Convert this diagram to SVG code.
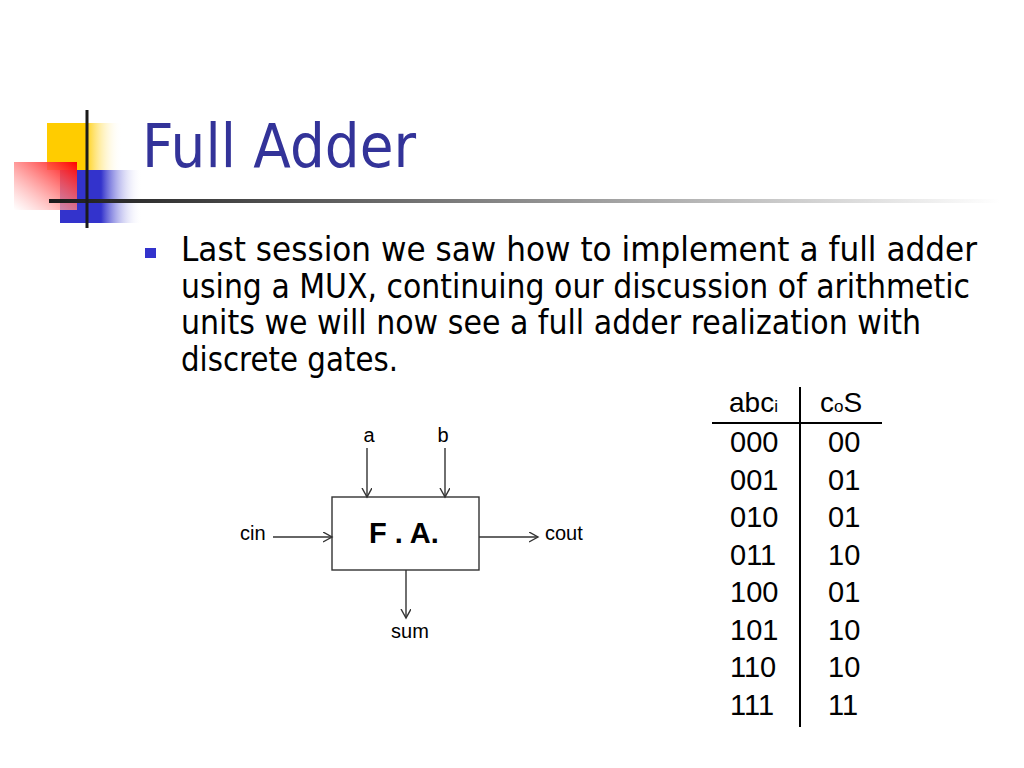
<svg xmlns="http://www.w3.org/2000/svg" width="1024" height="768" viewBox="0 0 1024 768">
  <style>
    .body { font-family: "DejaVu Sans", Verdana, sans-serif; font-size: 34px; fill: #000; }
    .title { font-family: "DejaVu Sans", Verdana, sans-serif; font-size: 61px; fill: #333399; }
    .lbl { font-family: "Liberation Sans", Arial, sans-serif; font-size: 20px; fill: #000; }
    .tbl { font-family: "Liberation Sans", Arial, sans-serif; font-size: 29px; fill: #000; }
    .hdr { font-family: "Liberation Sans", Arial, sans-serif; font-size: 28px; fill: #000; }
    .wire { stroke: #333; stroke-width: 1.4; fill: none; }
  </style>
  <defs>
    <linearGradient id="gYellow" x1="0" y1="0" x2="1" y2="0">
      <stop offset="0" stop-color="#ffcc00"/>
      <stop offset="0.5" stop-color="#ffcc00"/>
      <stop offset="1" stop-color="#ffffff" stop-opacity="0"/>
    </linearGradient>
    <linearGradient id="gBlue" x1="0" y1="0" x2="1" y2="0">
      <stop offset="0" stop-color="#3333cc"/>
      <stop offset="0.5" stop-color="#3333cc"/>
      <stop offset="1" stop-color="#ffffff" stop-opacity="0"/>
    </linearGradient>
    <linearGradient id="gRed" x1="1" y1="0" x2="0" y2="1">
      <stop offset="0" stop-color="#ff0000"/>
      <stop offset="1" stop-color="#ffffff" stop-opacity="0.6"/>
    </linearGradient>
    <linearGradient id="gRule" x1="0" y1="0" x2="1" y2="0">
      <stop offset="0" stop-color="#1a1a1a"/>
      <stop offset="1" stop-color="#ffffff"/>
    </linearGradient>
    <marker id="arr" markerUnits="userSpaceOnUse" markerWidth="12" markerHeight="12" refX="9" refY="5" orient="auto">
      <path d="M0,0 L9,5 L0,10" fill="none" stroke="#333" stroke-width="1.4"/>
    </marker>
  </defs>

  <rect width="1024" height="768" fill="#ffffff"/>

  <g id="decoration">
    <rect x="47" y="123" width="75" height="47" fill="url(#gYellow)"/>
    <rect x="60" y="170" width="82" height="53" fill="url(#gBlue)"/>
    <rect x="14" y="162" width="63" height="48" fill="url(#gRed)"/>
    <rect x="49" y="199" width="951" height="4" fill="url(#gRule)"/>
    <rect x="85.5" y="110" width="3" height="118" fill="#1a1a1a"/>
  </g>

  <g id="title">
    <text class="title" x="142" y="167" textLength="274" lengthAdjust="spacingAndGlyphs">Full Adder</text>
  </g>

  <g id="bullet-text">
    <rect x="145" y="248" width="11" height="10" fill="#3333cc"/>
    <text class="body" x="181" y="261" textLength="796" lengthAdjust="spacingAndGlyphs">Last session we saw how to implement a full adder</text>
    <text class="body" x="181" y="298" textLength="789" lengthAdjust="spacingAndGlyphs">using a MUX, continuing our discussion of arithmetic</text>
    <text class="body" x="181" y="334" textLength="740" lengthAdjust="spacingAndGlyphs">units we will now see a full adder realization with</text>
    <text class="body" x="181" y="371" textLength="217" lengthAdjust="spacingAndGlyphs">discrete gates.</text>
  </g>

  <g id="fa-block">
    <rect x="332" y="497" width="147" height="73" fill="#ffffff" stroke="#333" stroke-width="1.4"/>
    <text x="369" y="543" font-family="Liberation Sans, Arial, sans-serif" font-size="29" font-weight="bold" fill="#000">F . A.</text>
  </g>

  <g id="labels">
    <text class="lbl" x="369" y="442" text-anchor="middle">a</text>
    <text class="lbl" x="443" y="442" text-anchor="middle">b</text>
    <text class="lbl" x="240" y="540">cin</text>
    <text class="lbl" x="545" y="540">cout</text>
    <text class="lbl" x="410" y="638" text-anchor="middle">sum</text>
  </g>

  <g id="connectors">
    <line class="wire" x1="367" y1="448" x2="367" y2="497" marker-end="url(#arr)"/>
    <line class="wire" x1="445" y1="448" x2="445" y2="497" marker-end="url(#arr)"/>
    <line class="wire" x1="273" y1="537" x2="332" y2="537" marker-end="url(#arr)"/>
    <line class="wire" x1="479" y1="537" x2="538" y2="537" marker-end="url(#arr)"/>
    <line class="wire" x1="406" y1="570" x2="406" y2="618" marker-end="url(#arr)"/>
  </g>

  <g id="truth-table">
    <line x1="712" y1="423" x2="882" y2="423" stroke="#000" stroke-width="2"/>
    <line x1="800" y1="387" x2="800" y2="727" stroke="#000" stroke-width="2"/>
    <text class="hdr" x="729" y="412">abc<tspan font-size="17">i</tspan></text>
    <text class="hdr" x="820" y="412">c<tspan font-size="17">o</tspan>S</text>
    <text class="tbl" x="730" y="452">000</text><text class="tbl" x="828" y="452">00</text>
    <text class="tbl" x="730" y="490">001</text><text class="tbl" x="828" y="490">01</text>
    <text class="tbl" x="730" y="527">010</text><text class="tbl" x="828" y="527">01</text>
    <text class="tbl" x="730" y="565">011</text><text class="tbl" x="828" y="565">10</text>
    <text class="tbl" x="730" y="602">100</text><text class="tbl" x="828" y="602">01</text>
    <text class="tbl" x="730" y="640">101</text><text class="tbl" x="828" y="640">10</text>
    <text class="tbl" x="730" y="677">110</text><text class="tbl" x="828" y="677">10</text>
    <text class="tbl" x="730" y="715">111</text><text class="tbl" x="828" y="715">11</text>
  </g>
</svg>
